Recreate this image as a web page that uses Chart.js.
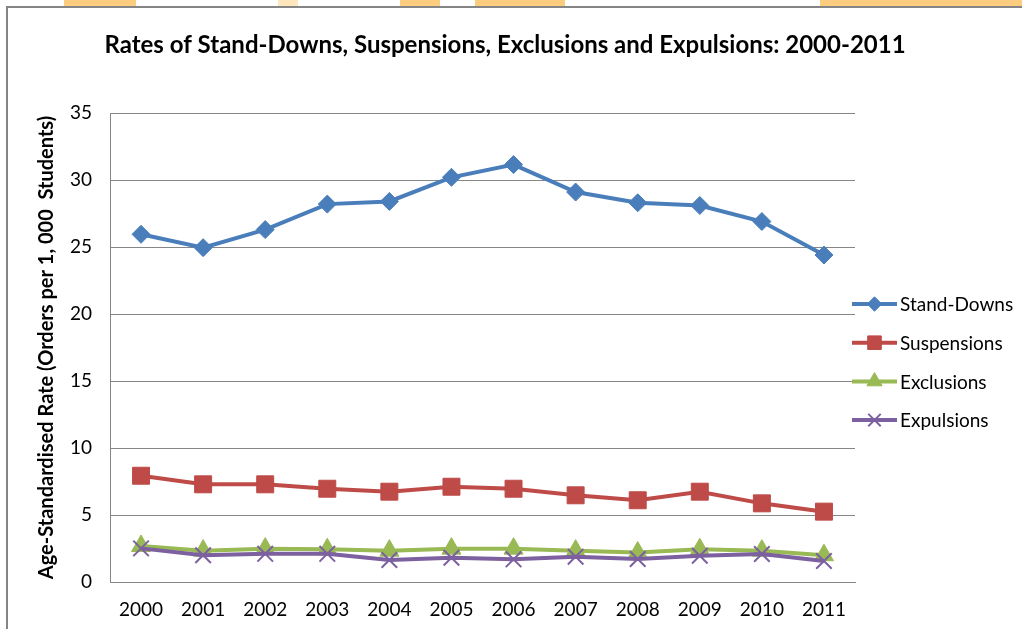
<!DOCTYPE html>
<html>
<head>
<meta charset="utf-8">
<script src="https://cdn.jsdelivr.net/npm/chart.js@4.4.0/dist/chart.umd.min.js"></script>
<style>
  html, body { margin: 0; padding: 0; background: #fff; }
  #wrap { position: relative; width: 1022px; height: 629px; overflow: hidden; }
  .blob { position: absolute; top: 0; height: 6px; background: #fdcd7f; }
  #frame { position: absolute; left: 6px; top: 6px; right: -4px; bottom: -4px; border-top: 2px solid #858585; border-left: 2px solid #858585; z-index: 2; }
  canvas { position: absolute; left: 0; top: 0; }
</style>
</head>
<body>
<div id="wrap">
  <div class="blob" style="left:64px;width:72px"></div>
  <div class="blob" style="left:278px;width:20px;opacity:.5"></div>
  <div class="blob" style="left:400px;width:40px"></div>
  <div class="blob" style="left:475px;width:90px"></div>
  <div class="blob" style="left:820px;width:202px"></div>
  <div id="frame"></div>
  <canvas id="chart" width="1022" height="629"></canvas>
</div>
<script>
const years = ['2000','2001','2002','2003','2004','2005','2006','2007','2008','2009','2010','2011'];
const standDowns  = [25.95, 24.95, 26.3, 28.2, 28.4, 30.2, 31.15, 29.1, 28.3, 28.1, 26.9, 24.4];
const suspensions = [7.93, 7.29, 7.29, 6.96, 6.74, 7.11, 6.96, 6.47, 6.1, 6.74, 5.87, 5.25];
const exclusions  = [2.69, 2.34, 2.49, 2.44, 2.34, 2.49, 2.49, 2.34, 2.2, 2.44, 2.34, 2.0];
const expulsions  = [2.51, 2.0, 2.1, 2.1, 1.64, 1.81, 1.69, 1.89, 1.72, 1.96, 2.09, 1.57];

const FONT = 'Lato, "Open Sans", sans-serif';
const TITLE = 'Rates of Stand-Downs, Suspensions, Exclusions and Expulsions: 2000-2011';

function series(label, data, color, style, radius, extra) {
  return Object.assign({
    label, data,
    borderColor: color, backgroundColor: color,
    pointBackgroundColor: color, pointBorderColor: color,
    pointStyle: style, pointRadius: radius, pointHoverRadius: radius,
    borderWidth: 4, pointBorderWidth: 1, tension: 0, fill: false
  }, extra || {});
}

// chart title, centred where Excel put it
const chartTitle = {
  id: 'chartTitle',
  afterDraw(chart, args, opts) {
    const ctx = chart.ctx;
    ctx.save();
    ctx.fillStyle = '#000';
    ctx.font = 'bold 24px ' + FONT;
    ctx.textAlign = 'center';
    ctx.textBaseline = 'middle';
    ctx.fillText(opts.text, opts.x, opts.y);
    ctx.restore();
  }
};

// Excel-style legend: short line with the marker in the middle
const lineLegend = {
  id: 'lineLegend',
  afterDraw(chart, args, opts) {
    const ctx = chart.ctx;
    ctx.save();
    chart.data.datasets.forEach((ds, i) => {
      const y = opts.top + i * opts.step;
      ctx.strokeStyle = ds.borderColor;
      ctx.lineWidth = 4;
      ctx.beginPath();
      ctx.moveTo(opts.left, y);
      ctx.lineTo(opts.left + opts.lineLen, y);
      ctx.stroke();
      ctx.fillStyle = ds.pointBackgroundColor;
      ctx.strokeStyle = ds.pointBorderColor;
      ctx.lineWidth = ds.pointBorderWidth;
      Chart.helpers.drawPoint(ctx, { pointStyle: ds.pointStyle, radius: ds.pointRadius * 0.8, borderWidth: ds.pointBorderWidth, rotation: 0 },
        opts.left + opts.lineLen / 2, y);
      ctx.fillStyle = '#000';
      ctx.font = '19px ' + FONT;
      ctx.textBaseline = 'middle';
      ctx.fillText(ds.label, opts.left + opts.lineLen + 3, y + 1);
    });
    ctx.restore();
  }
};

new Chart(document.getElementById('chart'), {
  type: 'line',
  data: {
    labels: years,
    datasets: [
      series('Stand-Downs', standDowns, '#4a7ebb', 'rectRot', 9),
      series('Suspensions', suspensions, '#be4b48', 'rect', 12),
      series('Exclusions', exclusions, '#98b954', 'triangle', 11, { order: 1 }),
      series('Expulsions', expulsions, '#7d60a0', 'crossRot', 11, { pointBorderWidth: 2, order: -1 })
    ]
  },
  options: {
    responsive: false,
    animation: false,
    layout: { padding: { left: 0, right: 167, top: 113, bottom: 0 } },
    plugins: {
      legend: { display: false },
      tooltip: { enabled: false },
      title: { display: false },
      chartTitle: { text: TITLE, x: 505, y: 45 },
      lineLegend: { left: 852, top: 304, step: 38.7, lineLen: 45 }
    },
    scales: {
      x: {
        offset: true,
        grid: { display: false, drawTicks: false },
        border: { color: '#868686', width: 1 },
        ticks: { color: '#000', font: { family: FONT, size: 19 }, padding: 16, maxRotation: 0 },
        afterFit(scale) { scale.height = 47; }
      },
      y: {
        min: 0, max: 35,
        ticks: { stepSize: 5, color: '#000', font: { family: FONT, size: 19 }, padding: 18 },
        grid: { color: '#868686', drawTicks: false },
        border: { color: '#868686', width: 1 },
        title: {
          display: true,
          text: 'Age-Standardised Rate (Orders per 1, 000  Students)',
          color: '#000',
          font: { family: FONT, size: 20, weight: 'bold' },
          padding: { top: 35, bottom: 0 }
        },
        afterFit(scale) { scale.width = 110; }
      }
    }
  },
  plugins: [chartTitle, lineLegend]
});
</script>
</body>
</html>
